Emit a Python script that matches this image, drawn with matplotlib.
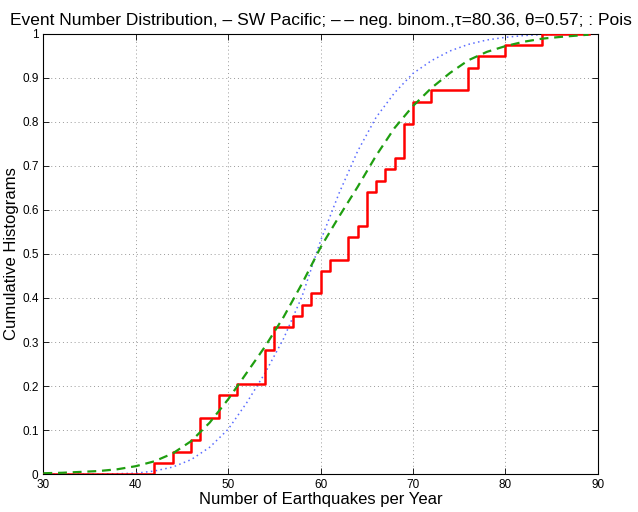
import numpy as np
import matplotlib
matplotlib.use("Agg")
from matplotlib import pyplot as plt

# observed yearly counts and how many years had each count
counts = [42, 44, 46, 47, 49, 51, 54, 55, 57, 58, 59, 60, 61, 63, 64, 65,
          66, 67, 68, 69, 70, 72, 76, 77, 80, 84]
years = [1, 1, 1, 2, 2, 1, 3, 2, 1, 1, 1, 2, 1, 2, 1, 3,
         1, 1, 1, 3, 2, 1, 2, 1, 1, 1]

# fitted curves
fit_x = [30, 32, 34, 36, 38, 40, 42, 44, 46, 48, 50, 52, 54, 56, 58, 60,
         62, 64, 66, 68, 70, 72, 74, 76, 78, 80, 82, 84, 86, 89]
negbin = [0.002, 0.003, 0.005, 0.007, 0.011, 0.018, 0.029, 0.047, 0.075,
          0.117, 0.170, 0.230, 0.290, 0.357, 0.433, 0.515, 0.585, 0.652,
          0.723, 0.786, 0.836, 0.877, 0.911, 0.940, 0.959, 0.972, 0.982,
          0.989, 0.993, 0.998]
poisson = [0.000, 0.000, 0.000, 0.000, 0.001, 0.002, 0.007, 0.016, 0.033,
           0.061, 0.102, 0.162, 0.230, 0.308, 0.404, 0.530, 0.638, 0.733,
           0.810, 0.866, 0.910, 0.939, 0.961, 0.976, 0.986, 0.992, 0.996,
           0.998, 0.999, 1.000]

plt.rcParams['font.family'] = ['Liberation Sans', 'DejaVu Sans']

fig = plt.figure(figsize=(6.38, 5.12), dpi=100)
ax = fig.add_axes([0.068, 0.074, 0.869, 0.86])

# empirical cumulative histogram
cum = np.cumsum(years) / np.sum(years)
sx = [30] + counts + [89]
sy = [0] + list(cum) + [1]
ax.step(sx, sy, where='post', color='red', lw=1.8, zorder=3)

ax.plot(fit_x, negbin, '--', color='#1f9e10', lw=1.6, dashes=(4, 2.6), zorder=4)
ax.plot(fit_x, poisson, color='#5a6cff', lw=1.1, dashes=(1, 2.2), zorder=2)

ax.set_xlim(30, 90)
ax.set_ylim(0, 1)
ax.set_xticks(range(30, 91, 10))
ax.set_yticks(np.arange(0, 1.01, 0.1))
ax.set_yticklabels(['0', '0.1', '0.2', '0.3', '0.4', '0.5', '0.6', '0.7',
                    '0.8', '0.9', '1'])
ax.tick_params(direction='in', top=True, right=True, labelsize=8.5,
               length=4, width=0.6)
ax.grid(True, linestyle=(0, (1, 3)), color='#999999', lw=0.7)
for s in ax.spines.values():
    s.set_linewidth(0.8)

ax.set_xlabel('Number of Earthquakes per Year', fontsize=12, labelpad=1)
ax.set_ylabel('Cumulative Histograms', fontsize=12, labelpad=2)
ax.set_title('Event Number Distribution, \u2013 SW Pacific; \u2013\u2009\u2013 neg. binom.,'
             '\u03c4=80.36, \u03b8=0.57; : Pois', fontsize=12.5, pad=6)

fig.savefig('out.png', dpi=100)
